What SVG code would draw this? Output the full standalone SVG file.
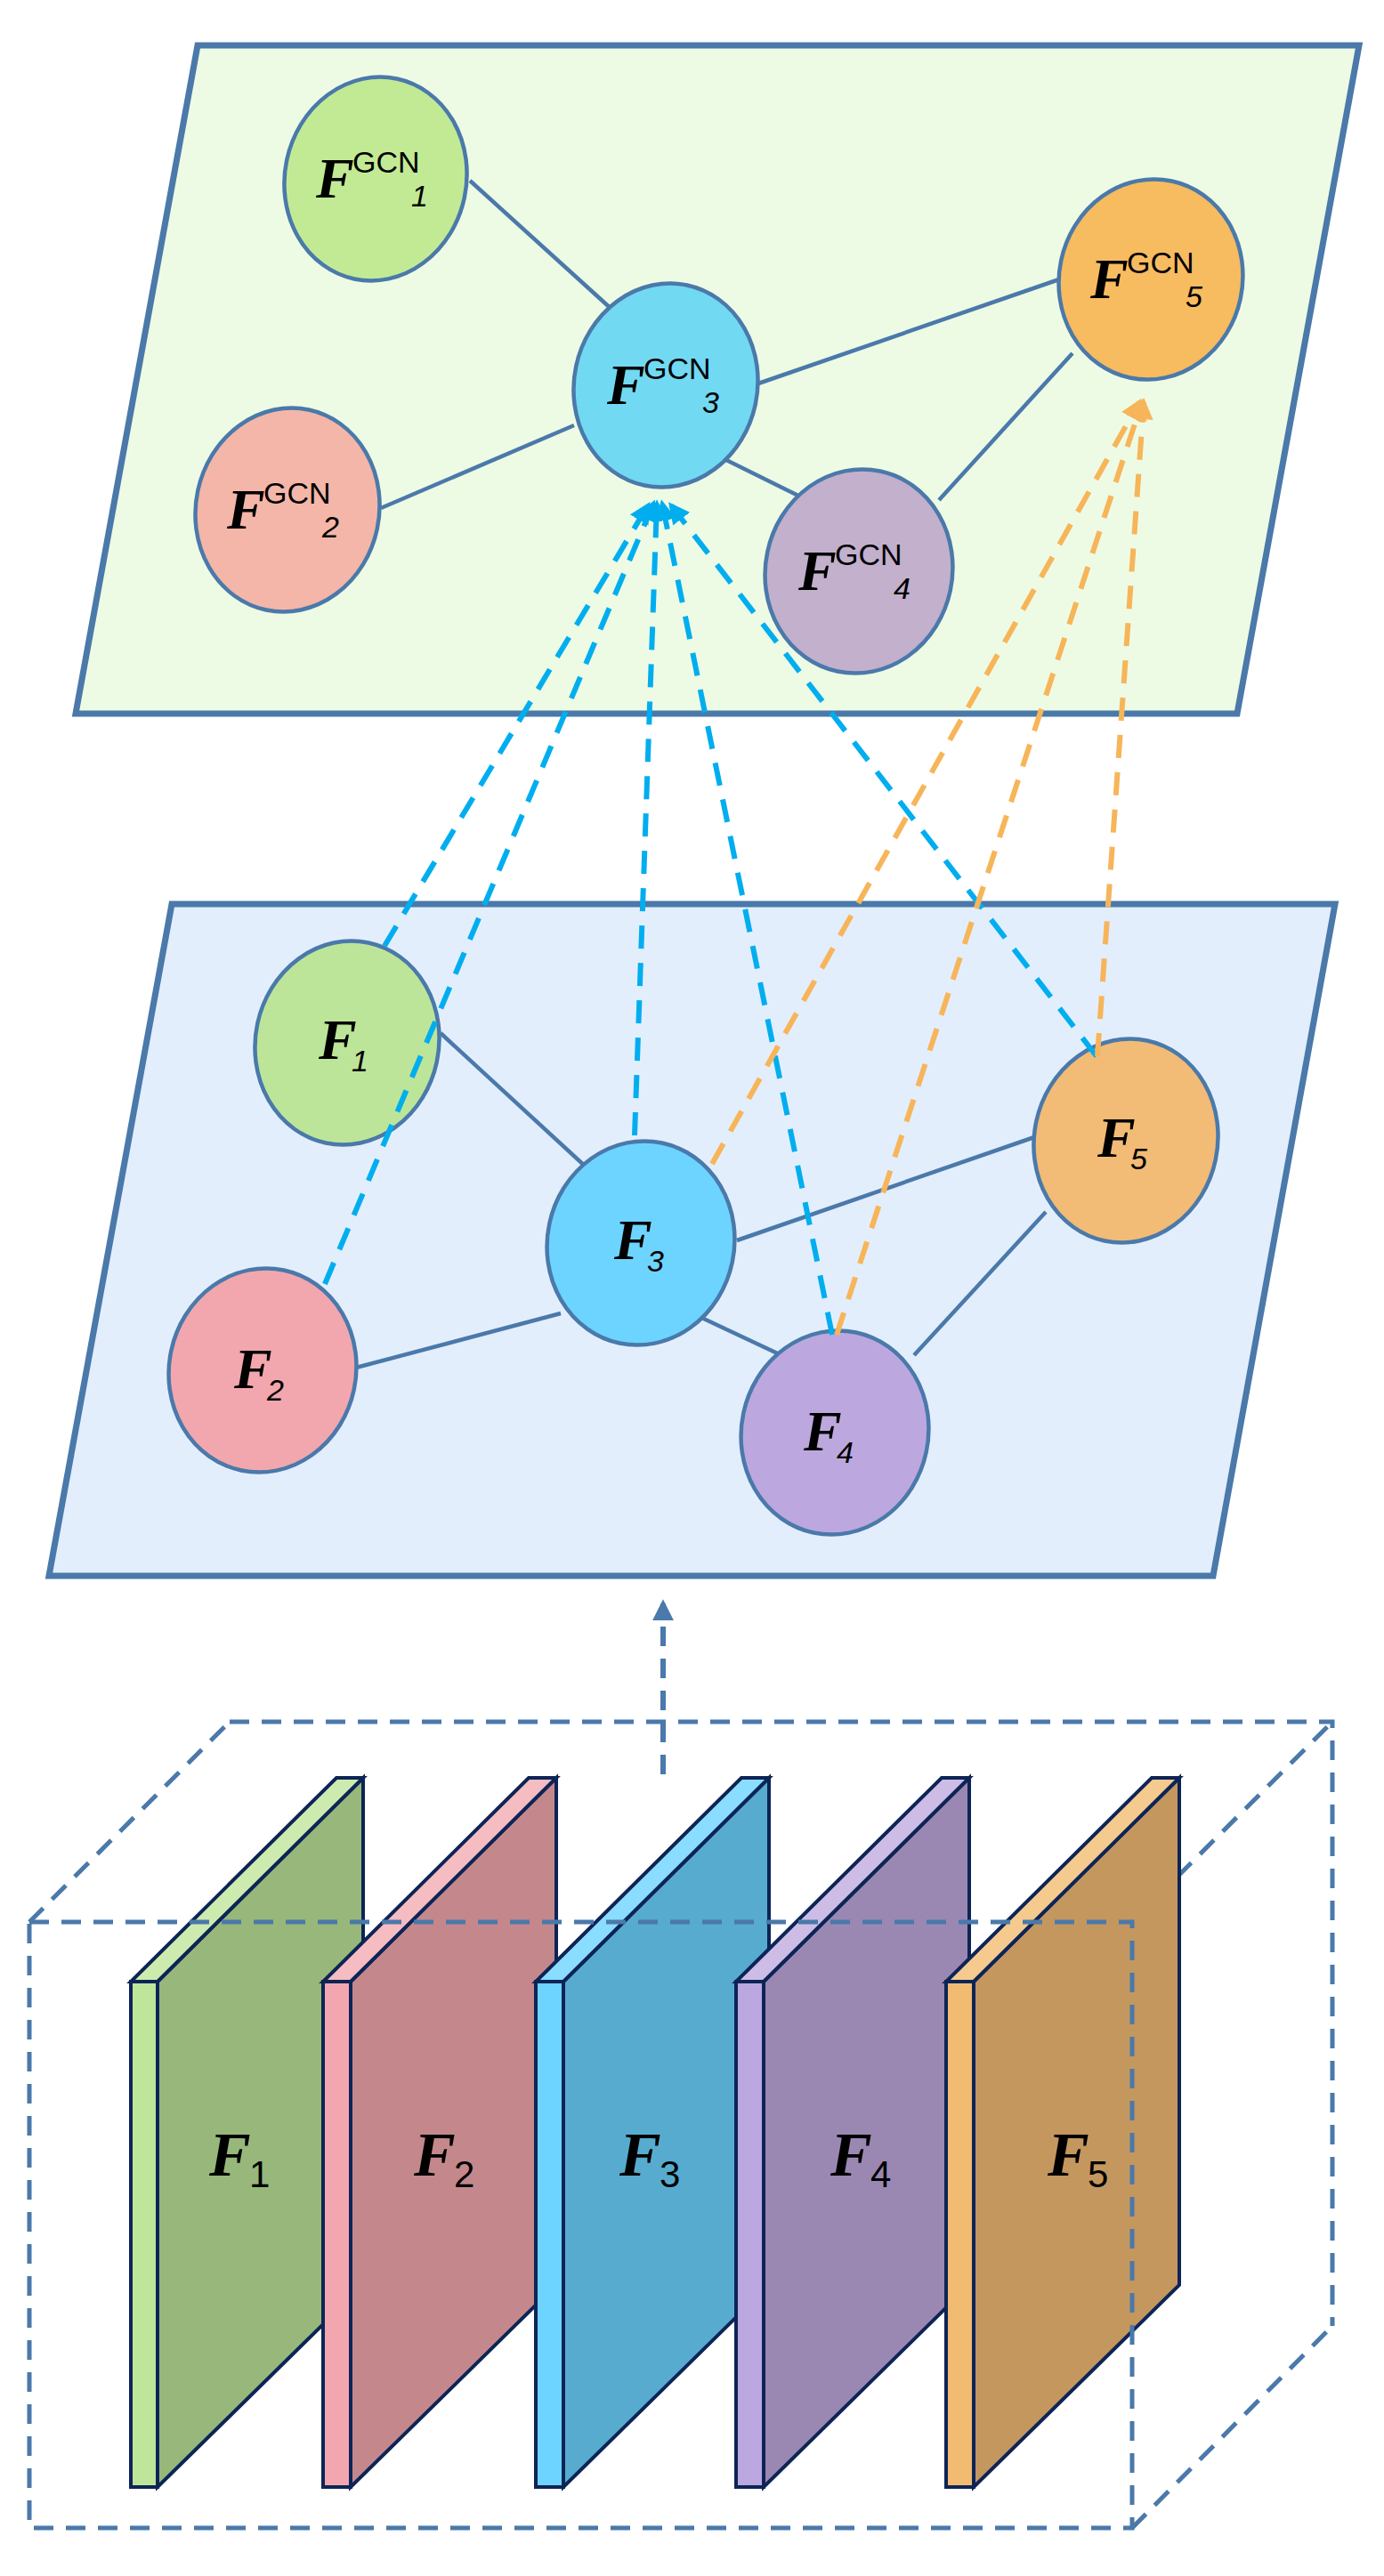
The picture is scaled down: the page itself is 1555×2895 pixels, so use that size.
<svg xmlns="http://www.w3.org/2000/svg" width="1555" height="2895" viewBox="0 0 1555 2895">
<style>
.plane{stroke:#4A79AA;stroke-width:7}
.node{stroke:#4A79AA;stroke-width:4.5}
.edge{stroke:#4A79AA;stroke-width:4.5}
.db{stroke:#00AEEF;stroke-width:6;stroke-dasharray:26 16;fill:none}
.do{stroke:#F7B55A;stroke-width:6;stroke-dasharray:26 16;fill:none}
.box{stroke:#4A79AA;stroke-width:5;stroke-dasharray:22 14;fill:none}
.slab{stroke:#0D2456;stroke-width:4}
.F{font-family:"Liberation Serif",serif;font-style:italic;font-weight:bold;fill:#000}
.s{font-family:"Liberation Sans",sans-serif;fill:#000}
</style>
<defs>
<marker id="ab" viewBox="0 0 10 10" refX="8" refY="5" markerWidth="4" markerHeight="4" orient="auto"><path d="M0,0L10,5L0,10z" fill="#00AEEF"/></marker>
<marker id="ao" viewBox="0 0 10 10" refX="8" refY="5" markerWidth="4" markerHeight="4" orient="auto"><path d="M0,0L10,5L0,10z" fill="#F7B55A"/></marker>
<marker id="ag" viewBox="0 0 10 10" refX="8" refY="5" markerWidth="4" markerHeight="4" orient="auto"><path d="M0,0L10,5L0,10z" fill="#4A79AA"/></marker>
</defs>
<g id="plane-gcn"><path class="plane" d="M222,51L1527,51L1390,802L85,802Z" fill="#EEFBE4"/></g>
<g id="plane-feat"><path class="plane" d="M193,1016L1500,1016L1363,1771L55,1771Z" fill="#E3EEFD"/></g>
<g id="edges">
<line class="edge" x1="528" y1="203" x2="690" y2="350"/>
<line class="edge" x1="428" y1="571" x2="645" y2="478"/>
<line class="edge" x1="852" y1="431" x2="1190" y2="314"/>
<line class="edge" x1="808" y1="513" x2="907" y2="562"/>
<line class="edge" x1="1055" y1="562" x2="1205" y2="397"/>
<line class="edge" x1="495" y1="1161" x2="660" y2="1313"/>
<line class="edge" x1="400" y1="1537" x2="630" y2="1476"/>
<line class="edge" x1="828" y1="1394" x2="1165" y2="1277"/>
<line class="edge" x1="780" y1="1477" x2="880" y2="1524"/>
<line class="edge" x1="1027" y1="1523" x2="1175" y2="1362"/>
</g>
<g id="nodes-gcn">
<g id="g1"><ellipse class="node" cx="422" cy="201" rx="102" ry="115" transform="rotate(12 422 201)" fill="#C2EA95"/><text x="355" y="222" class="F" font-size="64">F</text><text x="396" y="194" class="s" font-size="34">GCN</text><text x="462" y="232" class="s" font-size="34" font-style="italic">1</text></g>
<g id="g2"><ellipse class="node" cx="323" cy="573" rx="103" ry="115" transform="rotate(12 323 573)" fill="#F4B6A8"/><text x="255" y="594" class="F" font-size="64">F</text><text x="296" y="566" class="s" font-size="34">GCN</text><text x="362" y="604" class="s" font-size="34" font-style="italic">2</text></g>
<g id="g3"><ellipse class="node" cx="748" cy="433" rx="103" ry="115" transform="rotate(12 748 433)" fill="#72D9F2"/><text x="682" y="454" class="F" font-size="64">F</text><text x="723" y="426" class="s" font-size="34">GCN</text><text x="789" y="464" class="s" font-size="34" font-style="italic">3</text></g>
<g id="g4"><ellipse class="node" cx="965" cy="642" rx="105" ry="115" transform="rotate(12 965 642)" fill="#C2B0CC"/><text x="897" y="663" class="F" font-size="64">F</text><text x="938" y="635" class="s" font-size="34">GCN</text><text x="1004" y="673" class="s" font-size="34" font-style="italic">4</text></g>
<g id="g5"><ellipse class="node" cx="1293" cy="314" rx="103" ry="113" transform="rotate(12 1293 314)" fill="#F7BB60"/><text x="1225" y="335" class="F" font-size="64">F</text><text x="1266" y="307" class="s" font-size="34">GCN</text><text x="1332" y="345" class="s" font-size="34" font-style="italic">5</text></g>
</g>
<g id="nodes-feat">
<g id="f1"><ellipse class="node" cx="390" cy="1172" rx="103" ry="115" transform="rotate(12 390 1172)" fill="#BDE59A"/><text x="358" y="1190" class="F" font-size="64">F</text><text x="395" y="1204" class="s" font-size="34" font-style="italic">1</text></g>
<g id="f2"><ellipse class="node" cx="295" cy="1540" rx="105" ry="115" transform="rotate(12 295 1540)" fill="#F2A7AE"/><text x="263" y="1560" class="F" font-size="64">F</text><text x="300" y="1574" class="s" font-size="34" font-style="italic">2</text></g>
<g id="f3"><ellipse class="node" cx="720" cy="1397" rx="105" ry="115" transform="rotate(12 720 1397)" fill="#6DD4FF"/><text x="690" y="1415" class="F" font-size="64">F</text><text x="727" y="1429" class="s" font-size="34" font-style="italic">3</text></g>
<g id="f4"><ellipse class="node" cx="938" cy="1610" rx="105" ry="115" transform="rotate(12 938 1610)" fill="#BCA8DE"/><text x="903" y="1630" class="F" font-size="64">F</text><text x="940" y="1644" class="s" font-size="34" font-style="italic">4</text></g>
<g id="f5"><ellipse class="node" cx="1265" cy="1282" rx="103" ry="115" transform="rotate(12 1265 1282)" fill="#F2BB76"/><text x="1233" y="1300" class="F" font-size="64">F</text><text x="1270" y="1314" class="s" font-size="34" font-style="italic">5</text></g>
</g>
<g id="connectors">
<line class="db" x1="432" y1="1063" x2="728" y2="568" marker-end="url(#ab)"/>
<line class="db" x1="365" y1="1443" x2="734" y2="566" marker-end="url(#ab)"/>
<line class="db" x1="713" y1="1276" x2="738" y2="566" marker-end="url(#ab)"/>
<line class="db" x1="935" y1="1500" x2="744" y2="566" marker-end="url(#ab)"/>
<line class="db" x1="1232" y1="1187" x2="754" y2="568" marker-end="url(#ab)"/>
<line class="do" x1="800" y1="1308" x2="1280" y2="452" marker-end="url(#ao)"/>
<line class="do" x1="940" y1="1500" x2="1283" y2="452" marker-end="url(#ao)"/>
<line class="do" x1="1233" y1="1187" x2="1285" y2="452" marker-end="url(#ao)"/>
<line x1="745" y1="1994" x2="745" y2="1802" stroke="#4A79AA" stroke-width="6" stroke-dasharray="22 14" marker-end="url(#ag)"/>
</g>
<g id="box-back">
<path class="box" d="M258,1935L1497,1935L1497,2614"/>
<path class="box" d="M33,2160L258,1935M1272,2160L1497,1935M1272,2841L1497,2614"/>
</g>
<g id="slabs">
<g id="s1"><path class="slab" d="M177,2227L408,1998L408,2568L177,2795Z" fill="#97B87A"/><path class="slab" d="M147,2227L177,2227L408,1998L378,1998Z" fill="#CDEBAE"/><rect class="slab" x="147" y="2227" width="30" height="568" fill="#BEE59A"/><text x="235" y="2445" class="F" font-size="70">F</text><text x="280" y="2458" class="s" font-size="42">1</text></g>
<g id="s2"><path class="slab" d="M394,2227L625,1998L625,2568L394,2795Z" fill="#C4888C"/><path class="slab" d="M363,2227L394,2227L625,1998L594,1998Z" fill="#F5BCC2"/><rect class="slab" x="363" y="2227" width="31" height="568" fill="#F2A7B0"/><text x="465" y="2445" class="F" font-size="70">F</text><text x="510" y="2458" class="s" font-size="42">2</text></g>
<g id="s3"><path class="slab" d="M633,2227L864,1998L864,2568L633,2795Z" fill="#57ABCF"/><path class="slab" d="M602,2227L633,2227L864,1998L833,1998Z" fill="#8ADDFF"/><rect class="slab" x="602" y="2227" width="31" height="568" fill="#6DD3FF"/><text x="696" y="2445" class="F" font-size="70">F</text><text x="741" y="2458" class="s" font-size="42">3</text></g>
<g id="s4"><path class="slab" d="M858,2227L1089,1998L1089,2568L858,2795Z" fill="#9A88B3"/><path class="slab" d="M827,2227L858,2227L1089,1998L1058,1998Z" fill="#CDBDE6"/><rect class="slab" x="827" y="2227" width="31" height="568" fill="#BCA8E0"/><text x="933" y="2445" class="F" font-size="70">F</text><text x="978" y="2458" class="s" font-size="42">4</text></g>
<g id="s5"><path class="slab" d="M1094,2227L1325,1998L1325,2568L1094,2795Z" fill="#C4975F"/><path class="slab" d="M1063,2227L1094,2227L1325,1998L1294,1998Z" fill="#F5CA8E"/><rect class="slab" x="1063" y="2227" width="31" height="568" fill="#F2BB72"/><text x="1177" y="2445" class="F" font-size="70">F</text><text x="1222" y="2458" class="s" font-size="42">5</text></g>
</g>
<g id="box-front"><rect class="box" x="33" y="2160" width="1239" height="681"/></g>
</svg>
